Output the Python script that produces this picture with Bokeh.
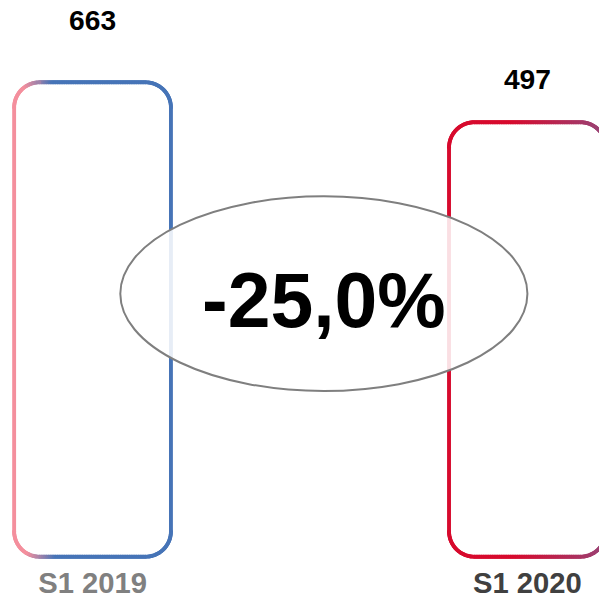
import numpy as np
from bokeh.plotting import figure
from bokeh.models import Range1d
from bokeh.core.properties import value
from bokeh.embed import file_html
from bokeh.resources import INLINE

# ---- data ----
periods = ["S1 2019", "S1 2020"]
totals = [663, 497]

# ---- style ----
W, H = 599, 600
S = 599 / 615                      # page scale
X_PX_PER_UNIT = 446.5 * S          # px between the two bars
X0_PX = 94.5 * S                   # px of first bar centre
Y_PX_PER_UNIT = 0.24699 * S        # px per value unit
Y0_PX = 247.75 * S                 # px of value 0 from top
BASE = -1309                       # bottom of the bars (value units)
BAR_HALF_PX = 80.5 * S
RADIUS_PX = 26 * S
LINE_W = 4 * S
FONT = "Liberation Sans"
label_offsets = [-63 * S, -44 * S]
period_colors = ["#808080", "#404040"]
grad_stops = [
    [(0.0, "#F48F9D"), (0.07, "#F48F9D"), (0.25, "#4674B7"), (1.0, "#4674B7")],
    [(0.0, "#D70A2D"), (0.40, "#D70A2D"), (1.0, "#974477")],
]

x_idx = np.arange(len(totals), dtype=float)

p = figure(width=W, height=H, output_backend="svg", toolbar_location=None,
           min_border=0, x_axis_type=None, y_axis_type=None)
p.x_range = Range1d(-X0_PX / X_PX_PER_UNIT, (W - X0_PX) / X_PX_PER_UNIT)
y_top = Y0_PX / Y_PX_PER_UNIT
p.y_range = Range1d(y_top - H / Y_PX_PER_UNIT, y_top)
p.xgrid.visible = False
p.ygrid.visible = False
p.outline_line_color = None
p.background_fill_color = "white"
p.border_fill_color = "white"


def hex2rgb(h):
    h = h.lstrip("#")
    return np.array([int(h[i:i + 2], 16) for i in (0, 2, 4)], dtype=float)


def grad_color(stops, t):
    for (t0, c0), (t1, c1) in zip(stops[:-1], stops[1:]):
        if t <= t1:
            f = 0 if t1 == t0 else (t - t0) / (t1 - t0)
            c = hex2rgb(c0) * (1 - f) + hex2rgb(c1) * f
            return "#%02x%02x%02x" % tuple(int(round(v)) for v in c)
    return stops[-1][1]


def rounded_path(xl, xr, yb, yt, rx, ry, n_arc=24, n_edge=60):
    pts = []
    for s in np.linspace(xl + rx, xr - rx, n_edge):
        pts.append((s, yt))
    for a in np.linspace(np.pi / 2, 0, n_arc)[1:]:
        pts.append((xr - rx + rx * np.cos(a), yt - ry + ry * np.sin(a)))
    pts.append((xr, yb + ry))
    for a in np.linspace(0, -np.pi / 2, n_arc)[1:]:
        pts.append((xr - rx + rx * np.cos(a), yb + ry + ry * np.sin(a)))
    for s in np.linspace(xr - rx, xl + rx, n_edge)[1:]:
        pts.append((s, yb))
    for a in np.linspace(-np.pi / 2, -np.pi, n_arc)[1:]:
        pts.append((xl + rx + rx * np.cos(a), yb + ry + ry * np.sin(a)))
    pts.append((xl, yt - ry))
    for a in np.linspace(np.pi, np.pi / 2, n_arc)[1:]:
        pts.append((xl + rx + rx * np.cos(a), yt - ry + ry * np.sin(a)))
    return pts


half = BAR_HALF_PX / X_PX_PER_UNIT
rx = RADIUS_PX / X_PX_PER_UNIT
ry = RADIUS_PX / Y_PX_PER_UNIT
for i, (xc, v) in enumerate(zip(x_idx, totals)):
    xl, xr = xc - half, xc + half
    pts = rounded_path(xl, xr, BASE, v, rx, ry)
    x0 = [a[0] for a in pts[:-1]]
    y0 = [a[1] for a in pts[:-1]]
    x1 = [a[0] for a in pts[1:]]
    y1 = [a[1] for a in pts[1:]]
    cols = [grad_color(grad_stops[i], ((a + b) / 2 - xl) / (xr - xl)) for a, b in zip(x0, x1)]
    p.segment(x0=x0, y0=y0, x1=x1, y1=y1, line_color=cols, line_width=LINE_W, line_cap="round")

# change ellipse
ell_x = (332 - 94.5) / 446.5
ell_y = (247.75 - 301) / 0.24699
p.ellipse(x=[ell_x], y=[ell_y], width=418 * S, height=200 * S, width_units="screen",
          height_units="screen", fill_color="white", fill_alpha=0.87,
          line_color="#7F7F7F", line_width=2)

pct = (totals[1] - totals[0]) / totals[0] * 100
pct_txt = f"{pct:.1f}".replace(".", ",") + "%"
p.text(x=[ell_x], y=[ell_y], text=[pct_txt], text_font=value(FONT), text_font_style="bold",
       text_font_size=f"{79 * S:.1f}px", text_color="black", text_align="center",
       text_baseline="middle", y_offset=7 * S)

for i, (xc, v) in enumerate(zip(x_idx, totals)):
    p.text(x=[xc], y=[v], text=[str(v)], text_font=value(FONT), text_font_style="bold",
           text_font_size=f"{29 * S:.1f}px", text_color="black", text_align="center",
           text_baseline="middle", y_offset=label_offsets[i])
    p.text(x=[xc], y=[BASE], text=[periods[i]], text_font=value(FONT), text_font_style="bold",
           text_font_size=f"{30 * S:.1f}px", text_color=period_colors[i], text_align="center",
           text_baseline="middle", y_offset=26)

open("out.html", "w").write(file_html(p, INLINE))
